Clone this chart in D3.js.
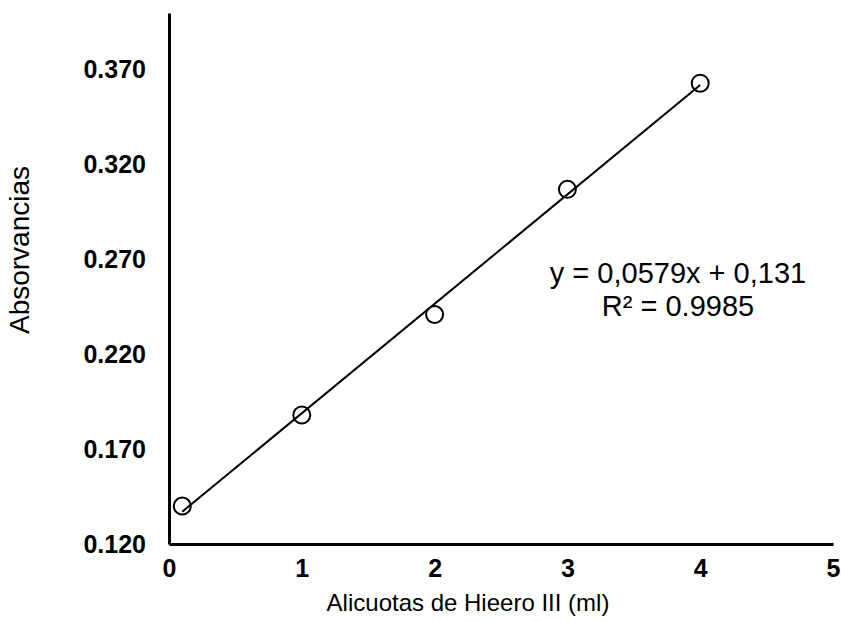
<!DOCTYPE html>
<html>
<head>
<meta charset="utf-8">
<script src="https://cdn.jsdelivr.net/npm/d3@7"></script>
<style>
  body { margin: 0; background: #fff; }
  text { font-family: "Liberation Sans", Arial, sans-serif; fill: #000; }
</style>
</head>
<body>
<div id="plot"></div>
<script>
const alicuotas = [0.1, 1, 2, 3, 4];
const absorvancias = [0.140, 0.188, 0.241, 0.307, 0.363];
const xTicks = [0, 1, 2, 3, 4, 5];
const yTicks = [0.120, 0.170, 0.220, 0.270, 0.320, 0.370];
const eqLines = ["y = 0,0579x + 0,131", "R\u00b2 = 0.9985"];

const data = alicuotas.map((a, i) => ({x: a, y: absorvancias[i]}));

const margin = {top: 13, right: 8, bottom: 77, left: 169};
const width = 841 - margin.left - margin.right;
const height = 621 - margin.top - margin.bottom;

const svg = d3.select("div#plot")
  .append("svg")
  .attr("width", 841)
  .attr("height", 621)
  .append("g")
  .attr("transform", `translate(${margin.left},${margin.top})`);

const x = d3.scaleLinear().domain([0, 5]).range([0, width]);
const y = d3.scaleLinear().domain([0.12, 0.40]).range([height, 0]);

// least squares trend line
const mx = d3.mean(data, d => d.x), my = d3.mean(data, d => d.y);
const slope = d3.sum(data, d => (d.x - mx) * (d.y - my)) / d3.sum(data, d => (d.x - mx) ** 2);
const intercept = my - slope * mx;
const xr = d3.extent(data, d => d.x);
const trend = xr.map(v => ({x: v, y: intercept + slope * v}));

svg.append("path")
  .datum(trend)
  .attr("fill", "none")
  .attr("stroke", "#000")
  .attr("stroke-width", 2)
  .attr("d", d3.line().x(d => x(d.x)).y(d => y(d.y)));

svg.selectAll("circle")
  .data(data)
  .join("circle")
  .attr("cx", d => x(d.x))
  .attr("cy", d => y(d.y))
  .attr("r", 8.5)
  .attr("fill", "none")
  .attr("stroke", "#000")
  .attr("stroke-width", 2);

// axes
const xAxis = svg.append("g")
  .attr("transform", `translate(0,${height})`)
  .call(d3.axisBottom(x).tickValues(xTicks).tickSize(0).tickPadding(15).tickFormat(d3.format("d")));
const yAxis = svg.append("g")
  .call(d3.axisLeft(y).tickValues(yTicks).tickSize(0).tickPadding(23).tickFormat(d3.format(".3f")));

[xAxis, yAxis].forEach(g => {
  g.select(".domain").attr("stroke", "#000").attr("stroke-width", 3);
  g.selectAll("text")
    .style("font-family", "'Liberation Sans', Arial, sans-serif")
    .style("font-size", "25px")
    .style("font-weight", "bold")
    .attr("fill", "#000");
});

// axis labels
svg.append("text")
  .attr("text-anchor", "middle")
  .attr("x", 468 - margin.left)
  .attr("y", 611 - margin.top)
  .style("font-size", "24px")
  .text("Alicuotas de Hieero III (ml)");

svg.append("text")
  .attr("text-anchor", "middle")
  .attr("transform", "rotate(-90)")
  .attr("x", -(250 - margin.top))
  .attr("y", 29 - margin.left)
  .style("font-size", "28px")
  .text("Absorvancias");

// equation
svg.selectAll("text.eq")
  .data(eqLines)
  .join("text")
  .attr("class", "eq")
  .attr("text-anchor", "middle")
  .attr("x", 678 - margin.left)
  .attr("y", (d, i) => 283 - margin.top + i * 33)
  .style("font-size", "29px")
  .text(d => d);
</script>
</body>
</html>
